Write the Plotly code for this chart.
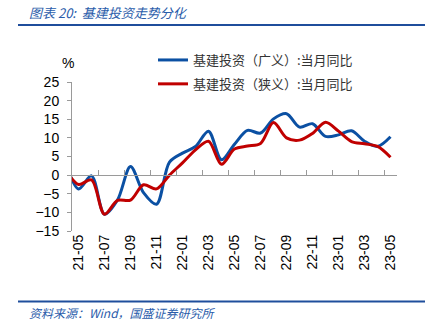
import plotly.graph_objects as go

months = ["21-04", "21-05", "21-06", "21-07", "21-08", "21-09", "21-10", "21-11", "21-12",
          "22-01", "22-02", "22-03", "22-04", "22-05", "22-06", "22-07", "22-08", "22-09",
          "22-10", "22-11", "22-12", "23-01", "23-02", "23-03", "23-04", "23-05"]
broad = [3.5, -3.7, -0.2, -10.5, -6.7, 2.3, -4.7, -7.8, 3.5, 5.9, 7.7, 11.8, 4.1, 8.3,
         12.0, 11.3, 15.1, 16.5, 12.9, 13.8, 10.4, 10.8, 11.9, 9.1, 7.7, 10.3]
narrow = [1.5, -2.5, -1.3, -10.5, -6.8, -6.7, -2.6, -3.7, 0.0, 3.3, 6.8, 9.1, 2.9, 7.0,
          7.8, 8.5, 14.1, 10.0, 9.4, 11.2, 14.2, 11.8, 9.0, 8.4, 7.7, 4.8]
names = ["基建投资（广义）:当月同比", "基建投资（狭义）:当月同比"]
label_months = ["21-05", "21-07", "21-09", "21-11", "22-01", "22-03", "22-05", "22-07",
                "22-09", "22-11", "23-01", "23-03", "23-05"]

W, H = 431, 327
L, R, T, B = 72, 34, 82, 96
PW, PH = W - L - R, H - T - B

def fx(px):
    return (px - L) / PW

def fy(py):
    return (H - B - py) / PH

pos = {m: i - 1 for i, m in enumerate(months)}  # 21-05 -> 0
xs = [pos[m] for m in months]
BLUE = "#0B50A3"
RED = "#C00000"
AX = "#9A9A9A"

fig = go.Figure()
fig.add_trace(go.Scatter(x=xs, y=broad, mode="lines", name=names[0],
                         line=dict(color=BLUE, width=3, shape="spline", smoothing=0.9),
                         legendgroup="a"))
fig.add_trace(go.Scatter(x=xs, y=narrow, mode="lines", name=names[1], xaxis="x2",
                         line=dict(color=RED, width=3, shape="spline", smoothing=0.9),
                         legendgroup="b"))

n = len(months) - 1
xr = [-0.5, n - 0.5]
fig.update_layout(
    width=W, height=H,
    margin=dict(l=L, r=R, t=T, b=B),
    paper_bgcolor="white", plot_bgcolor="white",
    font=dict(family="Liberation Sans, Arial", size=14, color="#000000"),
    xaxis=dict(range=xr, tickvals=[pos[m] for m in label_months], ticktext=label_months,
               tickangle=-90, ticks="", showline=False, showgrid=False, zeroline=False,
               tickfont=dict(size=14, color="#000000")),
    xaxis2=dict(range=xr, overlaying="x", anchor="free", position=15 / 40,
                showline=True, linecolor=AX, linewidth=1, showgrid=False, zeroline=False,
                showticklabels=False, ticks="inside", ticklen=5, tickcolor=AX,
                tickvals=[pos[m] + 1.5 for m in label_months[:-1]]),
    yaxis=dict(range=[-15, 25], dtick=5, showline=True, linecolor=AX, linewidth=1,
               ticks="outside", ticklen=4, tickcolor=AX, showgrid=False, zeroline=False,
               ticklabelstandoff=5,
               tickfont=dict(size=14, color="#000000")),
    legend=dict(x=fx(153), y=fy(45), xanchor="left", yanchor="top",
                bgcolor="rgba(0,0,0,0)", traceorder="grouped", tracegroupgap=4,
                font=dict(family="Noto Sans CJK SC", size=13, color="#333333")),
    showlegend=True,
)

fig.add_annotation(x=fx(68), y=fy(63), xref="paper", yref="paper", text="%",
                   xanchor="center", yanchor="middle",
                   showarrow=False, font=dict(size=14, color="#000000"))
fig.add_annotation(x=fx(27), y=fy(12), xref="paper", yref="paper", xanchor="left",
                   yanchor="middle",
                   text="图表 20:  基建投资走势分化", showarrow=False,
                   font=dict(family="Noto Sans CJK SC", size=13, color="#2A5CAA", style="italic"))
fig.add_annotation(x=fx(27), y=fy(312), xref="paper", yref="paper", xanchor="left",
                   yanchor="middle",
                   text="资料来源：Wind，国盛证券研究所", showarrow=False,
                   font=dict(family="Noto Sans CJK SC", size=12, color="#2A5CAA", style="italic"))
for py, w in [(25, 2), (301.5, 2)]:
    fig.add_shape(type="line", xref="paper", yref="paper", x0=fx(18), x1=fx(425),
                  y0=fy(py), y1=fy(py), line=dict(color="#1F4E9C", width=w))

fig.write_html("out.html")
